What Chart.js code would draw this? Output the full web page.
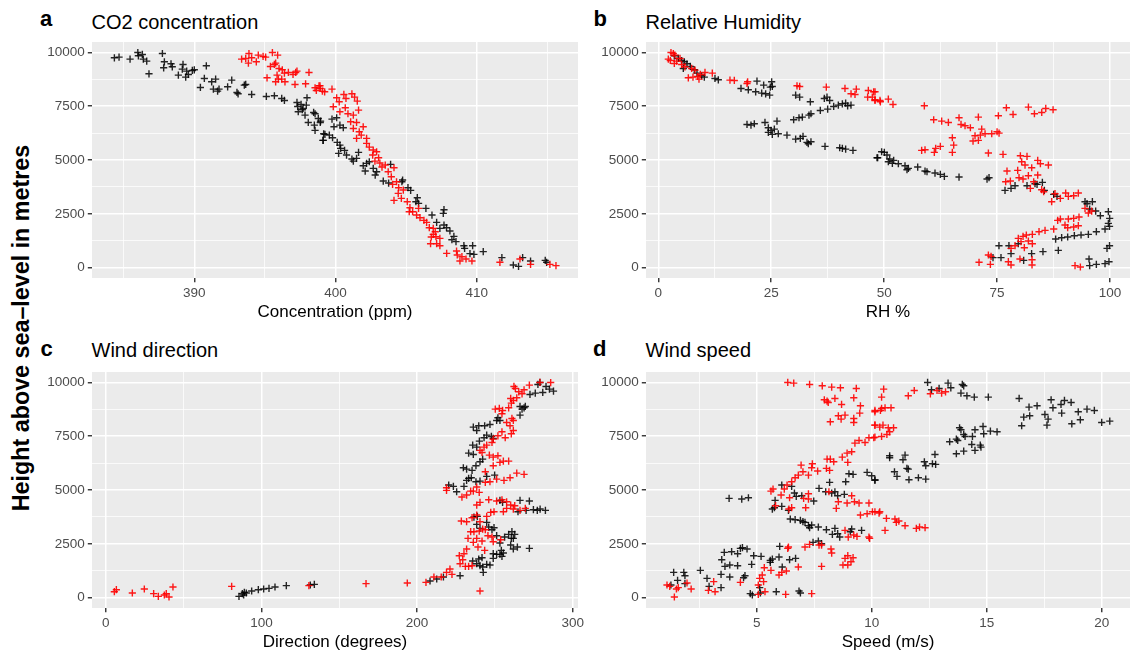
<!DOCTYPE html>
<html><head><meta charset="utf-8">
<script src="https://cdn.jsdelivr.net/npm/chart.js@4.4.1/dist/chart.umd.min.js"></script>
<style>
html,body{margin:0;padding:0;background:#fff;width:1130px;height:658px;overflow:hidden;font-family:"Liberation Sans",Arial,sans-serif;}
canvas{position:absolute;}
.t{position:absolute;white-space:nowrap;color:#000;line-height:1;}
.tag{font-weight:bold;font-size:22px;}
.ttl{font-size:20px;}
#ylab{position:absolute;left:22px;top:328px;transform:translate(-50%,-50%) rotate(-90deg);font-weight:bold;font-size:23.3px;line-height:1;white-space:nowrap;color:#000;}
</style></head><body>
<div class="t tag" style="left:40px;top:8.4px;">a</div>
<div class="t ttl" style="left:91.5px;top:12.4px;">CO2 concentration</div>
<div class="t tag" style="left:593.5px;top:8.4px;">b</div>
<div class="t ttl" style="left:645.5px;top:12.4px;">Relative Humidity</div>
<div class="t tag" style="left:40.5px;top:338.4px;">c</div>
<div class="t ttl" style="left:91.5px;top:340.1px;">Wind direction</div>
<div class="t tag" style="left:593px;top:338.4px;">d</div>
<div class="t ttl" style="left:645.5px;top:340.1px;">Wind speed</div>
<div id="ylab">Height above sea–level in metres</div>
<canvas id="ca" width="568" height="302" style="left:30px;top:28px;"></canvas>
<canvas id="cb" width="560" height="302" style="left:590px;top:28px;"></canvas>
<canvas id="cc" width="568" height="300" style="left:30px;top:358px;"></canvas>
<canvas id="cd" width="560" height="300" style="left:590px;top:358px;"></canvas>
<script>
// ---------- tick labels ----------
const yMajor=[0,2500,5000,7500,10000];
const yMinor=[1250,3750,6250,8750];
const co2Major=[390,400,410], co2Minor=[385,395,405,415];
const rhMajor=[0,25,50,75,100], rhMinor=[12.5,37.5,62.5,87.5];
const dirMajor=[0,100,200,300], dirMinor=[50,150,250];
const spdMajor=[5,10,15,20], spdMinor=[2.5,7.5,12.5,17.5];

// ---------- data: [value, height] ----------
const co2Black=[[384.34,9746],[384.67,9777],[385.45,9684],[386.0,9990],[386.04,9839],[386.32,9901],[386.39,9684],[386.63,9591],[386.79,9004],[387.74,9947],[387.88,9560],[387.83,9282],[388.35,9468],[388.44,9328],[388.87,8942],[389.2,9437],[389.15,9220],[389.46,9127],[389.39,8849],[389.58,8973],[389.86,9158],[390.0,9189],[390.85,9375],[390.71,8787],[390.43,8369],[391.23,8632],[391.51,8756],[391.35,8292],[391.65,8199],[391.75,8292],[392.36,8400],[392.65,8710],[393.02,8137],[393.1,8075],[393.54,8477],[393.64,8508],[394.06,8044],[395.1,7952],[395.67,7983],[396.19,7859],[396.38,7766],[397.27,7673],[397.32,7487],[397.56,7580],[397.7,7395],[397.93,7549],[397.36,7240],[397.84,7085],[397.98,7890],[398.45,7209],[398.55,7147],[398.07,6745],[398.5,6621],[398.78,6930],[398.92,6745],[398.55,6374],[399.16,6219],[399.11,5910],[397.65,7333],
[398.94,6807],[399.75,6900],[400.08,6962],[399.89,6544],[400.31,6621],[400.55,6497],[399.56,6157],[399.25,6188],[399.13,5910],[399.79,6033],[400.12,5817],[400.31,5693],[400.36,5538],[400.22,5306],[400.64,5445],[400.78,5229],[401.16,5043],[401.26,4950],[401.49,5074],[401.63,5353],[401.96,4734],[402.2,4842],[402.39,4919],[402.1,4486],[402.67,4610],[402.81,4301],[402.91,4455],[403.38,4022],[403.76,3929],[403.9,4796],[404.75,4068],[404.7,3991],[405.13,3713],[405.32,3589],[405.79,3249],[405.69,3063],[405.88,2986],[406.4,2754],[406.83,2444],[407.68,2692],[407.63,2522],[407.16,2104],[407.86,1856],[407.68,1980],[408.1,1702],[408.38,1454],[408.24,1299],[408.53,1207],[409.09,1021],[409.14,897],[409.71,1021],[409.52,650],[409.8,619],[410.46,743],[411.78,464],[412.59,124],[412.96,62],[413.25,464],[413.81,309],[414.85,340],[414.95,248],[407.39,1825]];
const co2Red=[[393.35,9684],[393.64,9715],[393.87,9947],[393.83,9499],[394.06,9746],[394.39,9560],[394.53,9870],[394.87,9808],[395.05,9777],[395.53,9990],[395.9,9870],[395.39,9344],[395.67,9437],[395.76,9499],[396.0,9251],[396.23,9189],[396.38,9034],[395.15,8818],[395.86,8942],[395.95,8756],[395.76,8632],[396.19,8756],[396.42,8632],[396.66,9065],[396.99,8973],[397.27,9127],[397.18,9065],[397.13,8508],[397.88,8539],[398.12,9065],[398.55,8354],[398.64,8230],[398.83,8446],[399.07,8199],[398.92,8323],
[398.9,8447],[399.23,8168],[399.75,8292],[400.08,7890],[399.84,7472],[400.26,7704],[400.59,8044],[400.74,7859],[401.16,8075],[401.35,7921],[401.54,7735],[400.31,7240],[400.69,7426],[400.88,7147],[401.26,7085],[401.63,7317],[401.07,6776],[401.49,6745],[401.26,6466],[401.68,6312],[401.96,6544],[401.82,6157],[401.49,6003],[402.2,6003],[402.2,5770],[402.39,5600],[402.67,5461],[402.91,5384],[402.63,5229],[403.05,5105],[402.79,4950],[403.14,4858],[403.29,4672],[403.52,4765],[404.14,4641],[403.73,4455],[403.95,4223],[404.32,3991],[404.04,3868],[404.47,3713],[404.8,3605],[404.44,3450],[404.14,3125],[404.66,3218],[405.08,3063],[405.27,2785],[405.46,2599],[405.22,2599],[405.74,2444],[405.98,2321],[405.88,2754],[406.26,2197],[406.45,2104],[406.64,1856],[406.78,1423],[406.92,1547],[407.11,1439],[407.16,1114],[406.73,1114],[407.39,1021],[407.87,665],[408.57,774],[408.62,588],[408.95,510],[409.24,402],[409.66,309],[408.81,309],[411.64,248],[413.06,402],[413.81,155],[415.18,155],[415.61,93],[407.39,1361],[407.06,1671],[406.92,1825]];

const rhBlack=[[3.55,9839],[4.43,9715],[5.17,9622],[5.76,9560],[6.35,9468],[5.54,9251],[7.09,9344],[7.98,9189],[8.57,9034],[9.6,8911],[10.19,8849],[12.55,8787],[13.29,8725],[18.31,8323],[19.93,8261],[21.56,8168],[22.89,8106],[23.77,8075],[24.66,8013],[21.85,8663],[23.33,8478],[25.1,8632],[25.24,8416],[24.8,8385],[30.41,8013],[31.3,7921],[33.66,7704],[36.76,7859],[37.35,7921],[37.94,7766],[38.83,7487],[39.86,7549],[40.75,7611],[41.48,7642],[42.66,7549],[41.92,7518],[37.5,7364],[35.87,7302],[33.8,7147],[33.36,7085],[31.89,6992],[31.15,6962],[29.97,6869],[19.64,6652],[20.52,6621],[21.26,6683],[23.62,6745],[24.36,6497],[24.95,6374],[25.69,6436],[26.28,6807],[26.57,6219],[25.24,6188],[24.36,6281],[28.49,6157],[30.41,5971],[31.44,6003],[32.04,6095],[32.92,5817],[33.21,5755],[33.8,5848],[36.91,5631],[40.16,5569],[40.75,5538],[41.48,5507],[43.1,5445],[48.42,5105],
[48.57,5105],[49.45,5384],[50.04,5353],[50.63,5229],[51.22,5043],[50.93,4919],[52.11,4981],[51.82,4842],[53.15,4827],[54.62,4734],[55.06,4548],[55.36,4610],[57.43,4672],[59.05,4486],[59.49,4455],[61.26,4394],[62.44,4332],[63.33,4239],[66.58,4208],[72.78,4115],[73.22,4177],[76.76,3589],[78.09,3682],[78.98,3806],[81.63,3806],[83.4,3898],[83.85,3868],[85.03,3960],[85.47,3589],[87.54,3403],[88.27,3311],[94.47,3063],[94.92,2970],[96.1,3063],[95.5,2723],[96.83,2630],[97.87,2413],[99.64,2599],[99.93,2290],[99.64,2058],[99.9,1918],[98.9,1794],[96.98,1671],[95.21,1547],[93.59,1516],[92.11,1485],[90.63,1423],[89.3,1392],[87.97,1330],[88.56,804],[85.16,743],[82.65,650],[79.7,1114],[77.63,1021],[75.42,1021],[75.87,464],[74.1,464],[78.09,650],[80.89,340],[95.36,402],[95.5,93],[96.98,155],[98.9,186],[99.78,278],[99.34,897],[99.9,1021]];
const rhRed=[[2.22,9684],[2.81,9990],[3.33,9947],[3.7,9870],[2.66,9622],[3.55,9483],[4.07,9591],[4.8,9715],[5.17,9437],[5.91,9328],[6.65,8818],[7.39,9251],[8.13,9174],[8.72,8880],[9.31,8973],[10.34,9065],[11.96,9034],[7.68,8849],[9.01,8756],[15.87,8710],[16.83,8694],[19.64,8555],[19.78,8632],[30.71,8447],[31.3,8416],[37.2,8385],[41.33,8323],[43.84,8292],[43.55,8044],[42.67,8075],[46.5,8230],[47.68,8168],[46.35,7921],[47.38,7921],[47.98,7766],[49.08,7766],
[47.98,8168],[47.98,7797],[49.16,7704],[50.93,7828],[51.96,7580],[58.9,7518],[60.97,6869],[62.74,6807],[64.22,6745],[66.58,6962],[67.02,6652],[67.91,6590],[69.09,6497],[70.86,6993],[71.6,6436],[71.3,6157],[70.12,6126],[69.68,5879],[70.86,5910],[72.34,6219],[73.82,6219],[75.0,6312],[75.44,6250],[75.29,7054],[77.06,7426],[78.54,7116],[81.94,7456],[83.27,7147],[84.89,7209],[85.78,7395],[87.4,7333],[65.1,6033],[65.4,5693],[65.1,5353],[62.44,5631],[61.41,5538],[61.11,5353],[59.05,5476],[58.31,5445],[73.08,5322],[76.32,5260],[80.16,5198],[81.63,5167],[80.45,4919],[81.19,4765],[82.67,4641],[84.0,4981],[84.59,4827],[86.36,4765],[77.2,4486],[76.91,3991],[77.94,4022],[79.57,4517],[79.86,4177],[80.75,4115],[81.93,4270],[82.37,3682],[83.11,3991],[84.0,4301],[84.88,3620],[85.32,3527],[87.09,3063],[87.83,3434],[89.01,3218],[90.19,3465],[90.78,3311],[91.96,3341],[92.99,3465],[94.47,2754],[95.21,2537],[95.95,2630],[93.14,2351],[91.96,2290],[90.78,2259],[89.01,2259],[88.42,2197],[90.04,1980],[90.63,1856],[91.96,1887],[92.99,1949],[87.54,1794],[85.62,1733],[84.29,1671],[82.81,1547],[81.48,1516],[80.75,1454],[79.7,1361],[81.93,1238],[80.3,1207],[78.98,1021],[78.09,897],[81.04,928],[82.81,1114],[73.08,588],[73.67,526],[73.52,155],[71.01,248],[77.5,278],[78.09,124],[80.07,402],[82.74,124],[82.74,371],[92.26,93],[93.44,31]];

const dirBlack=[[85.6,62],[87.75,186],[89.04,248],[90.32,217],[93.75,309],[98.03,371],[101.45,402],[104.88,433],[108.73,495],[116.0,557],[131.4,588],[134.0,619],[88.6,124],
[208.3,774],[212.6,866],[216.9,959],[227.6,1021],[242.5,1176],[242.1,1423],[240.4,1485],[238.3,1578],[246.8,1516],[235.7,1702],[239.6,1794],[241.7,1856],[244.7,1547],[248.9,1825],[251.1,2011],[253.2,2011],[254.5,1918],[254.1,2197],[255.4,2073],[248.9,2042],[261.8,2259],[264.4,2351],[272.1,2290],[260.1,2444],[253.2,2537],[256.2,2815],[258.8,2939],[260.9,3063],[262.7,2939],[261.8,2754],[260.5,2754],[251.1,2877],[249.4,3249],[246.0,3280],[240.4,3218],[238.3,3403],[236.5,3744],[238.7,3775],[244.7,3496],[248.1,3156],[253.2,4517],[254.9,4424],[266.1,4517],[272.1,4486],[270.0,4053],[274.7,4084],[277.2,4053],[282.4,4053],[279.0,4115],[264.8,3991],[220.3,5229],[223.3,5167],[225.4,4919],[230.1,5167],[231.8,5445],[233.1,5538],[234.8,5569],[237.8,5384],[240.4,5414],[244.7,5631],[249.8,5693],[229.7,6033],[231.8,5971],[235.3,5910],[237.8,6126],[240.4,6312],[242.1,6436],[233.1,6714],[236.1,6652],[238.3,6992],[235.7,7085],[240.0,7271],[243.0,7426],[244.7,7549],[247.7,7487],[248.9,7395],[236.1,7921],[238.3,7766],[239.6,7983],[243.4,7983],[246.8,8044],[251.9,8354],[253.2,8230],[251.1,8230],[266.1,8478],[267.4,8756],[268.7,8818],[269.5,8880],[266.1,8880],[272.5,9437],[275.9,9499],[277.6,9901],[278.9,9994],[280.7,9530],[285.0,9684],[287.6,9591],[282.8,9808]];
const dirRed=[[5.55,278],[6.84,371],[17.1,217],[24.8,402],[30.8,186],[33.8,62],[37.66,124],[38.9,186],[40.66,31],[43.2,495],[80.9,526],[130.5,557],
[167.2,650],[193.7,681],[205.7,712],[210.8,959],[215.5,959],[218.9,1176],[221.1,1330],[222.4,1083],[240.4,309],[227.6,1578],[229.3,1764],[227.1,1949],[230.1,2042],[231.8,2259],[235.3,1485],[233.1,1454],[231.0,1454],[232.7,2754],[236.1,2568],[238.3,2754],[239.1,2351],[241.7,2630],[243.4,2197],[234.4,3063],[236.5,3063],[239.9,3094],[243.8,3156],[245.5,2877],[248.1,2815],[248.9,2599],[253.7,2692],[228.4,3558],[231.8,3527],[235.3,3713],[238.3,3837],[240.4,3527],[242.1,3187],[244.7,3775],[247.3,3960],[249.4,3991],[255.4,3991],[257.5,4146],[261.8,4115],[266.1,4053],[269.5,4146],[238.3,4301],[240.4,4424],[246.0,4548],[251.1,4486],[254.5,4548],[257.5,4455],[260.1,4301],[262.7,4270],[218.9,5105],[218.9,4981],[228.8,4672],[231.8,4765],[234.4,4950],[236.1,4950],[239.9,4889],[238.3,5136],[243.8,5353],[246.8,5384],[251.1,5507],[255.8,5445],[259.7,5569],[264.0,5786],[268.7,5724],[243.8,5848],[248.9,6126],[253.2,6281],[255.4,6343],[258.8,6343],[246.4,6621],[248.9,6528],[251.9,6590],[241.7,6745],[240.4,6838],[243.0,6992],[244.7,7085],[248.1,7209],[248.9,7364],[251.9,7518],[254.5,7704],[256.6,7426],[260.5,7611],[261.8,7766],[259.7,7983],[257.5,8137],[260.9,8323],[261.8,8230],[254.5,8539],[250.2,8756],[252.8,8787],[254.9,8694],[258.8,8818],[260.5,9034],[261.8,9158],[260.1,9251],[264.0,9282],[267.4,9468],[265.3,9560],[268.7,9653],[263.1,9715],[262.2,9808],[272.1,9870],[278.9,9994],[285.8,9990]];

const spdBlack=[[9.01,5755],[9.19,5724],[9.8,5817],[10.0,5662],[10.14,5445],[8.17,5353],[8.87,5384],[7.71,5074],[8.0,4919],[8.26,4858],[8.4,4919],[8.52,4734],[8.81,4796],[6.09,5229],[6.52,5167],[6.72,4703],[6.96,4734],[6.64,4858],[7.48,4486],[5.8,4517],[5.68,4115],[5.77,4177],[6.09,4239],[6.38,4053],[6.46,3651],[6.67,3620],[6.9,3589],[7.01,3527],[7.1,3496],[7.25,3342],[7.3,3249],[7.39,3372],[7.68,3280],[8.03,3156],[8.29,2939],[8.4,3218],[8.52,2970],[8.61,2815],[9.13,3187],[9.56,3125],[9.07,3063],[7.45,2568],[7.68,2630],[7.82,2506],[6.0,2382],[3.8,4610],[4.35,4579],[4.64,4641],[3.59,2104],[3.91,2135],[4.17,2042],[4.29,2290],[4.38,2321],[4.58,2259],[4.87,1949],[5.19,1918],[3.48,1764],[3.62,1454],[3.83,1516],[4.17,1485],[4.78,1547],[5.59,1733],[5.68,1794],[5.59,1640],[5.97,1887],[6.43,1764],[6.69,1825],[6.11,1423],[4.49,1021],[4.43,928],[3.83,959],[3.45,1083],[2.84,897],[2.93,526],[3.45,464],[2.55,1269],[1.83,1176],[1.39,1176],[1.88,1021],[1.56,804],[1.88,650],[1.27,588],[4.72,186],[4.81,124],[5.13,464],[5.16,217],[5.85,278],[6.84,309],[6.9,217],
[12.43,9994],[12.6,9653],[12.93,9715],[13.32,9963],[13.44,9746],[13.94,9901],[14.0,9839],[13.88,9499],[14.14,9375],[14.46,9313],[15.07,9313],[16.41,9251],[16.84,8849],[17.19,8911],[17.8,9189],[17.88,8818],[18.38,9158],[18.67,9065],[18.23,8973],[18.26,8570],[18.98,8632],[19.36,8756],[19.68,8694],[16.61,8385],[16.87,8447],[16.52,7983],[17.53,8508],[17.67,8292],[17.62,8013],[18.7,8075],[19.07,8261],[20.0,8137],[20.35,8199],[13.82,7890],[13.88,7797],[14.49,7797],[14.84,7952],[14.87,7611],[15.16,7735],[15.45,7704],[14.0,7580],[14.06,7487],[13.68,7364],[13.39,7240],[13.74,7302],[14.38,7487],[14.35,7116],[14.49,6838],[14.75,6992],[14.72,7085],[13.68,6683],[14.0,6807],[12.75,6652],[11.45,6621],[11.36,6405],[10.78,6497],[10.78,6590],[11.53,6003],[11.59,5971],[12.29,6312],[12.35,6126],[12.64,6219],[12.78,6188],[10.99,5848],[11.1,5631],[11.62,5476],[12.03,5569],[12.35,5507],[10.14,5476]];
const spdRed=[[6.35,9994],[6.61,9963],[7.3,9901],[7.85,9839],[8.26,9777],[8.64,9746],[9.33,9715],[7.94,9189],[8.06,9127],[8.11,9065],[8.4,9251],[8.69,8973],[9.22,9282],[9.51,8911],[9.48,8570],[10.14,8632],[10.14,8013],[8.55,8447],[8.84,8478],[8.67,8292],[8.2,8168],[9.22,8323],[9.22,8137],[10.09,7426],[9.88,7426],[9.71,7209],[9.45,7302],[9.27,7178],[9.13,6776],[8.93,6714],[8.72,6528],[8.2,6436],[8.06,6436],[8.35,6312],[8.96,6281],[8.03,6003],[8.17,5910],[7.65,5879],[7.42,6219],[7.39,6033],[7.25,5693],[6.93,6157],[7.01,5848],[6.81,5693],[6.67,5569],[6.52,5384],[6.32,5229],[6.2,5043],[5.71,5043],[5.62,4950],[6.06,4765],[6.43,4641],[5.82,4270],[6.4,4115],[6.52,4177],[7.13,4177],[7.25,4579],[7.25,4827],[7.04,4610],[8.14,4919],[8.55,4455],[8.93,4394],[9.13,4734],[9.25,4455],[9.45,4394],[9.88,4394],[9.51,3837],[9.8,3898],[10.03,3991],[10.32,3929],[8.46,4146],[8.84,3125],[8.98,2815],[9.22,2908],[9.36,2846],[9.88,2815],[9.91,2754],[6.38,2351],[6.35,2290],[7.1,2351],[7.3,2475],[7.71,2444],[7.82,2444],[8.23,2259],[8.26,2073],[8.84,1825],[8.96,1949],[9.19,1856],[9.1,1671],[8.75,1516],[8.96,1516],[7.82,1454],[6.81,1423],[6.29,1238],[6.09,1176],[5.97,1052],[5.62,1269],[5.33,1392],[5.24,1052],[5.13,897],[5.3,743],[5.07,588],[5.07,155],[5.36,278],[6.26,155],[7.39,186],[4.29,712],[3.13,743],[2.9,340],[3.19,278],[2.15,402],[1.97,681],[1.59,464],[1.1,588],[1.22,526],[1.42,31],[1.51,402],
[10.52,9684],[10.43,9313],[11.85,9622],[11.59,9375],[10.43,8787],[10.58,8818],[10.84,8818],[10.38,8694],[10.14,8694],[10.14,8013],[10.35,7921],[10.49,8013],[10.72,7890],[10.95,7890],[10.78,7704],[10.66,7580],[10.43,7487],[10.14,7456],[10.14,3991],[10.35,3991],[10.64,3682],[11.01,3651],[11.07,3496],[11.18,3558],[11.45,3342],[10.58,3125],[11.94,3218],[12.08,3280],[12.32,3249],[12.55,9468],[12.84,9622],[13.04,9499],[13.21,9560]];

// ---------- drawing ----------
const FONT='"Liberation Sans", Arial, sans-serif';
const RED='rgba(255,0,0,0.9)', BLACK='rgba(0,0,0,0.85)';
const bgPlugin={id:'bg',beforeDraw(chart){const {ctx,chartArea:a}=chart;ctx.save();ctx.fillStyle='#EBEBEB';ctx.fillRect(a.left,a.top,a.right-a.left,a.bottom-a.top);ctx.restore();}};
const toXY=arr=>arr.map(p=>({x:p[0],y:p[1]}));
const allTicks=(ma,mi)=>ma.concat(mi).sort((a,b)=>a-b);

function gridOpts(major){
  const isMaj=c=>c.tick&&major.includes(c.tick.value);
  return {color:'#FFFFFF',lineWidth:c=>isMaj(c)?1.5:0.75,drawOnChartArea:true,drawTicks:true,tickLength:4.2,
          tickWidth:1.4,tickColor:c=>isMaj(c)?'#333333':'rgba(0,0,0,0)'};
}
function panel(id,cfg){
  const xt=allTicks(cfg.xMajor,cfg.xMinor), yt=allTicks(yMajor,yMinor);
  new Chart(document.getElementById(id),{
    type:'scatter',
    data:{datasets:[
      {data:toXY(cfg.red),borderColor:RED,backgroundColor:RED},
      {data:toXY(cfg.black),borderColor:BLACK,backgroundColor:BLACK}
    ]},
    options:{
      responsive:false,animation:false,devicePixelRatio:1,
      layout:{padding:{left:0,top:14,right:20,bottom:0}},
      plugins:{legend:{display:false},tooltip:{enabled:false},title:{display:false}},
      elements:{point:{pointStyle:'cross',radius:3.6,hoverRadius:3.6,borderWidth:1.4}},
      scales:{
        x:{type:'linear',position:'bottom',min:cfg.xMin,max:cfg.xMax,
          afterBuildTicks:s=>{s.ticks=xt.map(v=>({value:v}));},
          afterFit:s=>{s.height=cfg.xH;s.paddingLeft=0;s.paddingRight=0;s.paddingTop=0;s.paddingBottom=0;},
          grid:gridOpts(cfg.xMajor),border:{display:false},
          ticks:{autoSkip:false,maxRotation:0,minRotation:0,padding:3,color:'#4D4D4D',font:{family:FONT,size:13.5},
            callback:v=>cfg.xMajor.includes(v)?String(v):''},
          title:{display:true,text:cfg.xTitle,color:'#000',font:{family:FONT,size:17},padding:{top:0,bottom:cfg.tPad}}
        },
        y:{type:'linear',position:'left',min:-480,max:10480,
          afterBuildTicks:s=>{s.ticks=yt.map(v=>({value:v}));},
          afterFit:s=>{s.width=cfg.yW;s.paddingLeft=0;s.paddingRight=0;s.paddingTop=0;s.paddingBottom=0;},
          grid:gridOpts(yMajor),border:{display:false},
          ticks:{autoSkip:false,padding:3,color:'#4D4D4D',font:{family:FONT,size:13.5},
            callback:v=>yMajor.includes(v)?String(v):''}
        }
      }
    },
    plugins:[bgPlugin]
  });
}
panel('ca',{red:co2Red,black:co2Black,xMajor:co2Major,xMinor:co2Minor,xMin:382.755,xMax:417.17,xTitle:'Concentration (ppm)',yW:62,xH:52,tPad:7.8});
panel('cb',{red:rhRed,black:rhBlack,xMajor:rhMajor,xMinor:rhMinor,xMin:-2.72,xMax:104.43,xTitle:'RH %',yW:56,xH:52,tPad:7.8});
panel('cc',{red:dirRed,black:dirBlack,xMajor:dirMajor,xMinor:dirMinor,xMin:-8.8,xMax:303.34,xTitle:'Direction (degrees)',yW:62,xH:50,tPad:5.4});
panel('cd',{red:spdRed,black:spdBlack,xMajor:spdMajor,xMinor:spdMinor,xMin:0.187,xMax:21.23,xTitle:'Speed (m/s)',yW:56,xH:50,tPad:5.4});
</script>
</body></html>
